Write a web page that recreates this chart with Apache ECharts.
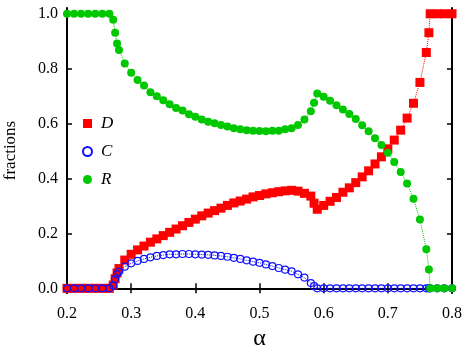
<!DOCTYPE html>
<html><head><meta charset="utf-8">
<script src="https://cdn.jsdelivr.net/npm/echarts@6/dist/echarts.min.js"></script>
<style>html,body{margin:0;padding:0;background:#fff}#c{width:463px;height:352px}</style>
</head><body><div id="c"></div>
<script>
const alpha = [0.2,0.211,0.222,0.233,0.244,0.255,0.266,
  0.272,0.275,0.278,0.281,
  0.29,0.30,0.31,0.32,0.33,0.34,0.35,0.36,0.37,0.38,0.39,0.40,0.41,0.42,0.43,0.44,0.45,0.46,0.47,0.48,0.49,0.50,0.51,0.52,0.53,0.54,0.55,0.56,0.57,0.58,
  0.585,
  0.59,0.60,0.61,0.62,0.63,0.64,0.65,0.66,0.67,0.68,0.69,0.70,0.71,0.72,0.73,0.74,0.75,0.76,
  0.764,
  0.766,0.777,0.788,0.80];
const fracD = [0,0,0,0,0,0,0,
  0.012,0.035,0.056,0.072,
  0.103,0.124,0.140,0.154,0.168,0.180,0.192,0.204,0.216,0.228,0.240,0.252,0.264,0.274,0.283,0.292,0.302,0.311,0.318,0.325,0.333,0.338,0.344,0.348,0.352,0.355,0.357,0.354,0.346,0.336,
  0.310,
  0.288,0.302,0.317,0.331,0.350,0.366,0.385,0.406,0.428,0.453,0.479,0.508,0.540,0.576,0.620,0.674,0.750,0.859,
  0.931,
  1,1,1,1];
const fracC = [0,0,0,0,0,0,0,
  0.010,0.034,0.052,0.060,
  0.079,0.091,0.100,0.107,0.113,0.118,0.121,0.124,0.124,0.125,0.125,0.124,0.123,0.122,0.120,0.118,0.115,0.111,0.107,0.102,0.097,0.093,0.087,0.081,0.074,0.068,0.062,0.051,0.039,0.019,
  0.008,
  0,0,0,0,0,0,0,0,0,0,0,0,0,0,0,0,0,0,
  0,
  0,0,0,0];
const fracR = [1,1,1,1,1,1,1,
  0.978,0.931,0.892,0.868,
  0.819,0.785,0.759,0.739,0.714,0.700,0.685,0.670,0.657,0.648,0.634,0.625,0.615,0.607,0.601,0.595,0.589,0.583,0.579,0.576,0.574,0.573,0.572,0.574,0.574,0.579,0.583,0.595,0.615,0.645,
  0.676,
  0.710,0.698,0.683,0.667,0.651,0.635,0.617,0.594,0.572,0.547,0.522,0.494,0.460,0.424,0.382,0.326,0.251,0.142,
  0.069,
  0,0,0,0];
const yTicks = [0,0.2,0.4,0.6,0.8,1.0];
const seriesNames = ['D','C','R'];

const pairs = v => alpha.map((a,i)=>[a,v[i]]);
const FONT = 'Liberation Serif';
const chart = echarts.init(document.getElementById('c'), null, {renderer:'canvas'});
const axisLine = {show:true, lineStyle:{color:'#000', width:2}};
const tick = {show:true, inside:true, length:5, lineStyle:{color:'#000', width:1.5}};
chart.setOption({
  animation:false,
  backgroundColor:'#fff',
  grid:{left:67, right:11, top:8, height:285, containLabel:false, outerBoundsMode:'none'},
  xAxis:[
    {type:'value', min:0.2, max:0.8, interval:0.1, position:'bottom',
     axisLine, axisTick:tick, splitLine:{show:false},
     axisLabel:{margin:13, color:'#000', fontFamily:FONT, fontSize:16, formatter:v=>v.toFixed(1)},
     name:'α', nameLocation:'middle', nameGap:33,
     nameTextStyle:{fontFamily:FONT, fontSize:24, color:'#000'}},
    {type:'value', min:0.2, max:0.8, interval:0.1, position:'top',
     axisLine, axisTick:tick, axisLabel:{show:false}, splitLine:{show:false}}
  ],
  yAxis:[
    {type:'value', min:-0.017, max:1.021, position:'left',
     axisLine, axisTick:Object.assign({customValues:yTicks}, tick), splitLine:{show:false},
     axisLabel:{customValues:yTicks, margin:9, color:'#000', fontFamily:FONT, fontSize:16, formatter:v=>v.toFixed(1)},
     name:'fractions', nameLocation:'middle', nameGap:48,
     nameTextStyle:{fontFamily:FONT, fontSize:17, color:'#000'}},
    {type:'value', min:-0.017, max:1.021, position:'right',
     axisLine, axisTick:Object.assign({customValues:yTicks}, tick), axisLabel:{show:false}, splitLine:{show:false}}
  ],
  legend:{
    orient:'vertical', left:77, top:110, itemWidth:9, itemHeight:9, itemGap:11,
    textStyle:{fontFamily:FONT, fontStyle:'italic', fontSize:17, color:'#000', padding:[0,0,0,4]},
    data:[{name:'D', icon:'rect'},{name:'C', icon:'circle'},{name:'R', icon:'circle'}]
  },
  series:[
    {name:seriesNames[0], type:'line', data:pairs(fracD), clip:false,
     symbol:'rect', symbolSize:9, showAllSymbol:true,
     itemStyle:{color:'#ff0000'}, lineStyle:{color:'#ff0000', width:1, type:'dotted'}},
    {name:seriesNames[1], type:'line', data:pairs(fracC), clip:false,
     symbol:'circle', symbolSize:7, showAllSymbol:true,
     itemStyle:{color:'rgba(0,0,0,0)', borderColor:'#1010ff', borderWidth:1.2},
     lineStyle:{color:'#1010ff', width:1, type:'dotted'}},
    {name:seriesNames[2], type:'line', data:pairs(fracR), clip:false,
     symbol:'circle', symbolSize:8, showAllSymbol:true,
     itemStyle:{color:'#00c800'}, lineStyle:{color:'#00c800', width:1, type:'dotted'}}
  ]
});
</script></body></html>
